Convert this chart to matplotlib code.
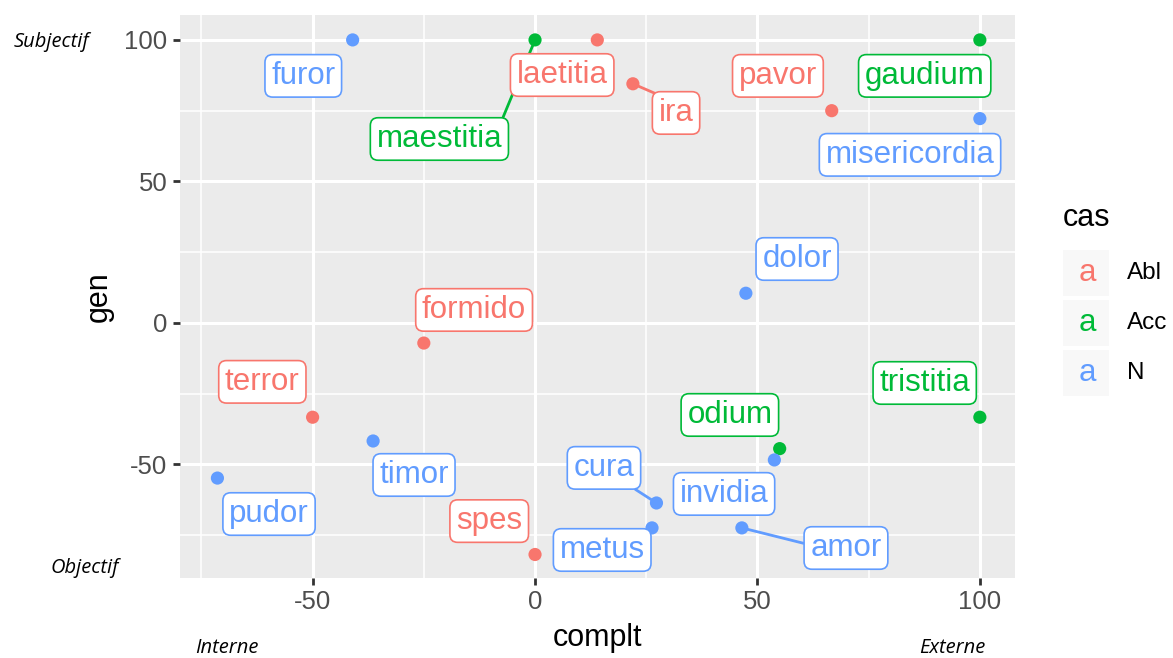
import matplotlib.pyplot as plt
from matplotlib.patches import Rectangle
from matplotlib.ticker import MultipleLocator

# data
words = ["furor", "maestitia", "laetitia", "ira", "pavor", "gaudium", "misericordia",
         "dolor", "formido", "terror", "tristitia", "odium", "invidia", "timor",
         "pudor", "cura", "metus", "amor", "spes"]
cas = ["N", "Acc", "Abl", "Abl", "Abl", "Acc", "N",
       "N", "Abl", "Abl", "Acc", "Acc", "N", "N",
       "N", "N", "N", "N", "Abl"]
complt = [-41, 0, 14, 22, 66.7, 100, 100,
          47.4, -25, -50, 100, 55, 53.8, -36.4,
          -71.4, 27.3, 26.3, 46.5, 0]
gen = [100, 100, 100, 84.5, 75, 100, 72.2,
       10.5, -7.1, -33.3, -33.3, -44.4, -48.4, -41.7,
       -54.8, -63.6, -72.4, -72.4, -81.8]
levels = ["Abl", "Acc", "N"]

# where the repelled labels ended up (layout)
label_pos = {
    "furor": (-52.1, 87.3), "maestitia": (-21.5, 65), "laetitia": (6.1, 87.6),
    "ira": (31.7, 74.2), "pavor": (54.6, 87.3), "gaudium": (87.6, 87.3),
    "misericordia": (84.3, 59.4), "dolor": (58.9, 22.6), "formido": (-13.7, 4.6),
    "terror": (-61.3, -20.8), "tristitia": (87.6, -21.2), "odium": (43.8, -32.5),
    "invidia": (42.5, -60.4), "timor": (-27.2, -53.7), "pudor": (-59.8, -67.5),
    "cura": (15.5, -51.2), "metus": (15.1, -80.2), "amor": (69.9, -79.5),
    "spes": (-10.3, -70),
}
# segment start on the label box (fraction of box)
segments = {"maestitia": (0.98, 0.95), "ira": (0.2, 1.0), "cura": (0.85, 0.0),
            "metus": (1.0, 0.9), "amor": (0.0, 0.6)}

colors = {"Abl": "#F8766D", "Acc": "#00BA38", "N": "#619CFF"}

plt.rcParams['font.family'] = ['Liberation Sans', 'DejaVu Sans']
plt.rcParams['axes.unicode_minus'] = False

fig = plt.figure(figsize=(11.73, 6.58), dpi=100)
ax = fig.add_axes([0.1535, 0.1216, 0.7118, 0.8556])
ax.set_facecolor("#EBEBEB")
for s in ax.spines.values():
    s.set_visible(False)

ax.set_xlim(-79.8, 107.9)
ax.set_ylim(-90.1, 108.8)
ax.xaxis.set_major_locator(MultipleLocator(50))
ax.yaxis.set_major_locator(MultipleLocator(50))
ax.xaxis.set_minor_locator(MultipleLocator(25))
ax.yaxis.set_minor_locator(MultipleLocator(25))
ax.grid(which="major", color="white", lw=2.2)
ax.grid(which="minor", color="white", lw=1.1)
ax.set_axisbelow(True)
ax.tick_params(which="major", length=5, width=2, color="#333333",
               labelsize=18.5, labelcolor="#4D4D4D", pad=4)
ax.tick_params(which="minor", length=0)

ax.scatter(complt, gen, c=[colors[c] for c in cas], s=90, zorder=2, lw=0)

# labels (maestitia comes before laetitia so its segment sits under laetitia's box)
order = ["maestitia"] + [w for w in words if w != "maestitia"]
for w in order:
    i = words.index(w)
    col = colors[cas[i]]
    ap = None
    if w in segments:
        ap = dict(arrowstyle="-", color=col, lw=2, shrinkA=0, shrinkB=0,
                  relpos=segments[w])
    ax.annotate(w, xy=(complt[i], gen[i]), xytext=label_pos[w],
                ha="center", va="center", fontsize=22.5, color=col,
                bbox=dict(boxstyle="round,pad=0.2,rounding_size=0.25",
                          fc="white", ec=col, lw=1.2),
                arrowprops=ap, zorder=3)

ax.set_xlabel("complt", fontsize=22, labelpad=6)
ax.set_ylabel("gen", fontsize=22, labelpad=8)

# legend drawn by hand, ggplot style
fig.text(1087 / 1173, 1 - 218 / 658, "cas", fontsize=22, ha="center", va="center")
for k, lev in enumerate(levels):
    yc = 273 + k * 50
    fig.patches.append(Rectangle((1062 / 1173, 1 - (yc + 24) / 658), 48 / 1173, 48 / 658,
                                 transform=fig.transFigure, fc="#F8F8F8", ec="white",
                                 lw=1.5, zorder=0))
    fig.text(1087 / 1173, 1 - yc / 658, "a", fontsize=22.5, color=colors[lev],
             ha="center", va="center")
    fig.text(1127 / 1173, 1 - yc / 658, lev, fontsize=17.5, ha="left", va="center")

# corner notes
note = dict(fontsize=14.5, style="italic", family=["Open Sans", "DejaVu Sans"])
fig.text(51 / 1173, 1 - 42 / 658, "Subjectif", ha="center", va="center", **note)
fig.text(85 / 1173, 1 - 568 / 658, "Objectif", ha="center", va="center", **note)
fig.text(227 / 1173, 1 - 648 / 658, "Interne", ha="center", va="center", **note)
fig.text(952 / 1173, 1 - 648 / 658, "Externe", ha="center", va="center", **note)

fig.savefig("out.png", dpi=100)
